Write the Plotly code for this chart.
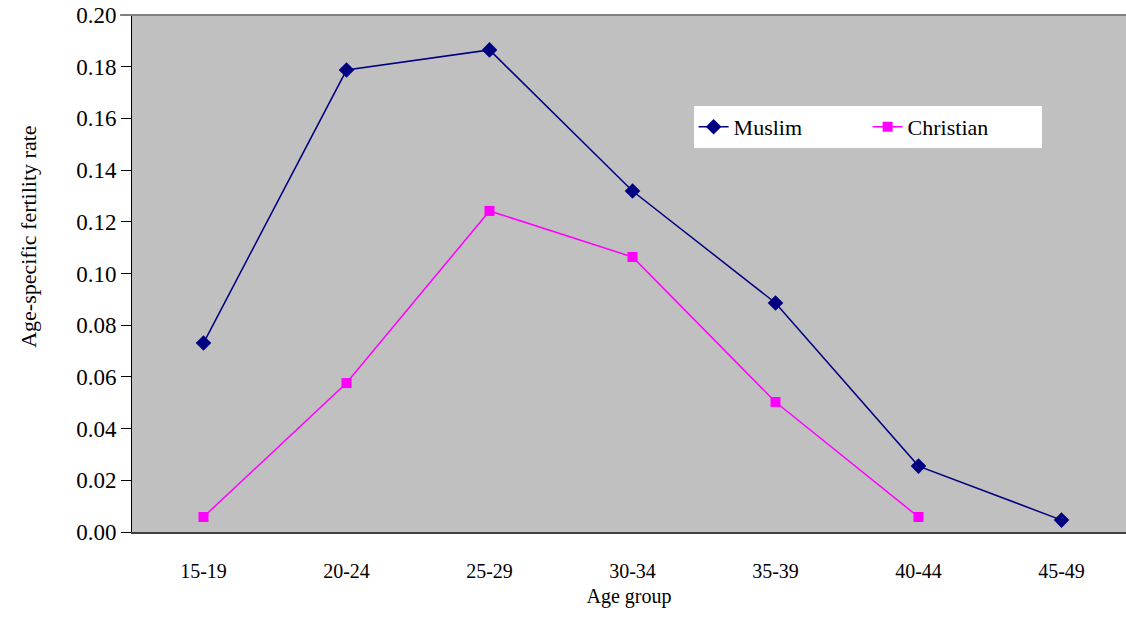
import plotly.graph_objects as go

age_groups = ["15-19", "20-24", "25-29", "30-34", "35-39", "40-44", "45-49"]
muslim = [0.0731, 0.1787, 0.1865, 0.1319, 0.0886, 0.0255, 0.0046]
christian_groups = ["15-19", "20-24", "25-29", "30-34", "35-39", "40-44"]
christian = [0.0058, 0.0576, 0.1242, 0.1064, 0.0503, 0.0058]
y_ticks = [0.00, 0.02, 0.04, 0.06, 0.08, 0.10, 0.12, 0.14, 0.16, 0.18, 0.20]

fig = go.Figure()
fig.add_trace(go.Scatter(
    x=age_groups, y=muslim, name="Muslim", mode="lines+markers",
    line=dict(color="#000080", width=1.5),
    marker=dict(symbol="diamond", size=12, color="#000080"),
))
fig.add_trace(go.Scatter(
    x=christian_groups, y=christian, name="Christian", mode="lines+markers",
    line=dict(color="#FF00FF", width=1.5),
    marker=dict(symbol="square", size=10, color="#FF00FF"),
))

serif = "Liberation Serif, Times New Roman, serif"

fig.update_layout(
    width=1126, height=618,
    margin=dict(l=132, r=0, t=15, b=86),
    paper_bgcolor="white",
    plot_bgcolor="#C0C0C0",
    font=dict(family=serif, color="black", size=20),
    showlegend=True,
    legend=dict(
        orientation="h", x=0.565, y=0.824, xanchor="left", yanchor="top",
        bgcolor="white", font=dict(size=22, family=serif),
        entrywidth=129, entrywidthmode="pixels",
    ),
    xaxis=dict(
        type="category", categoryorder="array", categoryarray=age_groups,
        range=[-0.5, 6.451],
        showgrid=False, zeroline=False,
        showline=True, linecolor="#404040", linewidth=2,
        ticks="outside", ticklen=20, tickcolor="rgba(0,0,0,0)",
        tickfont=dict(size=20, family=serif),
        title=dict(text="Age group", font=dict(size=20, family=serif), standoff=8),
    ),
    yaxis=dict(
        range=[0, 0.20], tickvals=y_ticks,
        ticktext=[f"{v:.2f}" for v in y_ticks],
        showgrid=False, zeroline=False,
        showline=True, linecolor="black", linewidth=1,
        ticks="outside", ticklen=10, tickcolor="black",
        tickfont=dict(size=23, family=serif),
    ),
    annotations=[dict(
        text="Age-specific fertility rate", textangle=-90,
        xref="paper", yref="paper", x=0, y=0.57, xshift=-118,
        showarrow=False, font=dict(size=22, family=serif),
    )],
    shapes=[dict(
        type="line", xref="paper", yref="paper", x0=-0.012, x1=1, y0=1, y1=1,
        line=dict(color="#808080", width=2),
    )],
)

fig.write_html("out.html", config={"displayModeBar": False},
               post_script="document.body.style.margin='0';")
